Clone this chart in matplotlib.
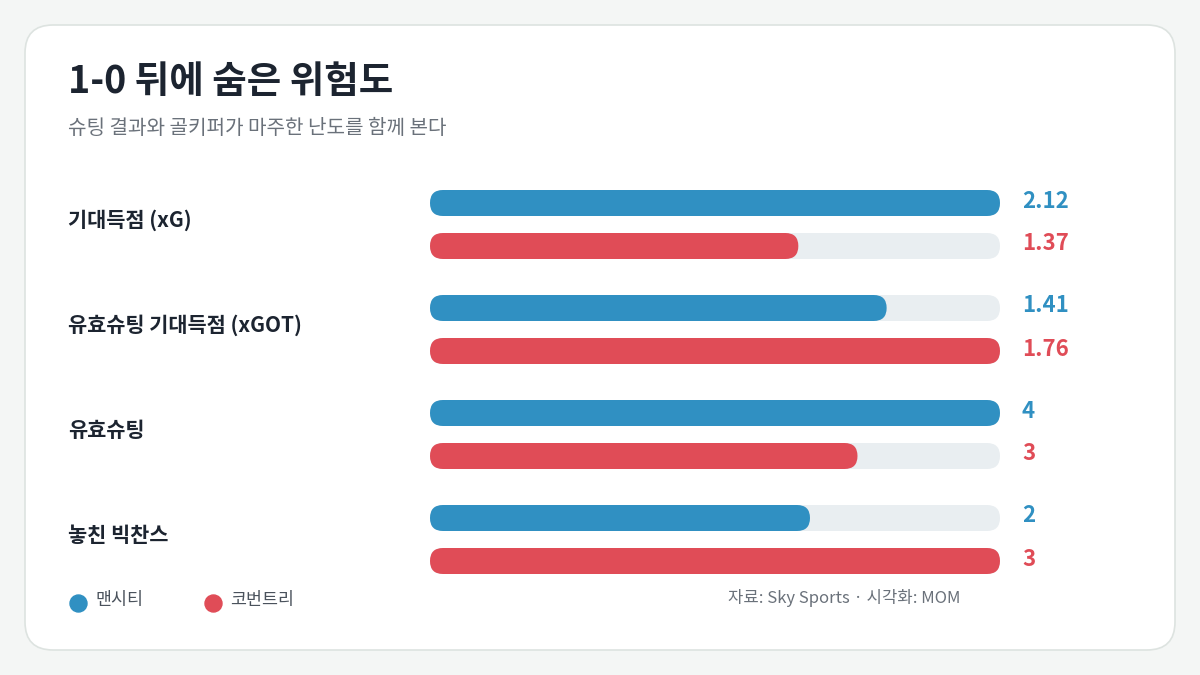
import matplotlib.pyplot as plt
from matplotlib.patches import FancyBboxPatch

plt.rcParams['font.family'] = ['Noto Sans CJK KR', 'DejaVu Sans']

categories = ["기대득점 (xG)", "유효슈팅 기대득점 (xGOT)", "유효슈팅", "놓친 빅찬스"]
city = [2.12, 1.41, 4, 2]
coventry = [1.37, 1.76, 3, 3]
city_labels = ["2.12", "1.41", "4", "2"]
coventry_labels = ["1.37", "1.76", "3", "3"]

BLUE = "#3090c2"
RED = "#e04c57"
TRACK = "#e9eef1"

fig = plt.figure(figsize=(12, 6.75), dpi=100)
fig.patch.set_facecolor("#f4f6f5")
ax = fig.add_axes([0, 0, 1, 1])
ax.set_xlim(0, 1200)
ax.set_ylim(675, 0)
ax.axis("off")

ax.add_patch(FancyBboxPatch((25, 25), 1150, 625, boxstyle="round,pad=0,rounding_size=28",
                            fc="white", ec="#dde3e0", lw=1.2))

ax.text(68, 82, "1-0 뒤에 숨은 위험도", fontsize=27, fontweight="bold", color="#1c2430", va="center")
ax.text(68, 128, "슈팅 결과와 골키퍼가 마주한 난도를 함께 본다", fontsize=14.5, color="#6a717a", va="center")

x0, width, h = 430, 570, 26


def bar(y, frac, color):
    r = h / 2
    ax.add_patch(FancyBboxPatch((x0 + r, y - h / 2 + r), width - 2 * r, h - 2 * r,
                                boxstyle=f"round,pad={r}", fc=TRACK, ec="none"))
    w = max(width * frac, h)
    ax.add_patch(FancyBboxPatch((x0 + r, y - h / 2 + r), w - 2 * r, h - 2 * r,
                                boxstyle=f"round,pad={r}", fc=color, ec="none"))


for i, cat in enumerate(categories):
    yb = 203 + i * 105
    yr = yb + 43
    m = max(city[i], coventry[i])
    bar(yb, city[i] / m, BLUE)
    bar(yr, coventry[i] / m, RED)
    ax.text(1022, yb - 2, city_labels[i], fontsize=16, fontweight="bold", color=BLUE, va="center")
    ax.text(1022, yr - 2, coventry_labels[i], fontsize=16, fontweight="bold", color=RED, va="center")
    ax.text(68, (yb + yr) / 2 - 4, cat, fontsize=15, fontweight="bold", color="#1c2430", va="center")

ax.scatter([78], [603], s=150, color=BLUE)
ax.scatter([213], [603], s=150, color=RED)
ax.text(95, 600, "맨시티", fontsize=12.5, color="#4a525c", va="center")
ax.text(230, 600, "코번트리", fontsize=12.5, color="#4a525c", va="center")
ax.text(960, 598, "자료: Sky Sports · 시각화: MOM", fontsize=12, color="#6a717a", va="center", ha="right")

fig.savefig("out.png", dpi=100, facecolor=fig.get_facecolor())
